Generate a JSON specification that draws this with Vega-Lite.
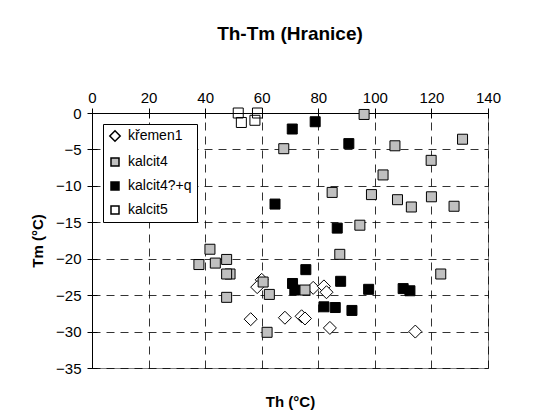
{
  "$schema": "https://vega.github.io/schema/vega-lite/v6.json",
  "width": 396,
  "height": 255,
  "autosize": {"type": "none"},
  "padding": {"left": 92, "top": 113, "right": 61, "bottom": 51},
  "background": "white",
  "title": {"text": "Th-Tm (Hranice)", "font": "Liberation Sans", "fontSize": 19, "fontWeight": "bold", "color": "#000", "anchor": "middle", "offset": 46},
  "config": {
    "font": "Liberation Sans",
    "view": {"stroke": "#808080", "strokeWidth": 1},
    "axis": {"labelFont": "Liberation Sans", "titleFont": "Liberation Sans", "labelColor": "#000", "titleColor": "#000", "domainColor": "#000", "tickColor": "#000"},
    "legend": {"strokeColor": "#000", "fillColor": "white", "padding": 5, "rowPadding": 10, "labelFontSize": 14, "labelFont": "Liberation Sans", "labelColor": "#000", "symbolSize": 64, "labelOffset": 6}
  },
  "data": {"values": [
    {"series": "křemen1", "Th": 60, "Tm": -22.9},
    {"series": "křemen1", "Th": 58.4, "Tm": -23.9},
    {"series": "křemen1", "Th": 56.1, "Tm": -28.3},
    {"series": "křemen1", "Th": 68.2, "Tm": -28.1},
    {"series": "křemen1", "Th": 74.1, "Tm": -27.9},
    {"series": "křemen1", "Th": 75.3, "Tm": -28.2},
    {"series": "křemen1", "Th": 78.2, "Tm": -24},
    {"series": "křemen1", "Th": 82, "Tm": -23.8},
    {"series": "křemen1", "Th": 82.9, "Tm": -24.6},
    {"series": "křemen1", "Th": 84.1, "Tm": -29.5},
    {"series": "křemen1", "Th": 114.3, "Tm": -30},
    {"series": "kalcit4?+q", "Th": 70.8, "Tm": -2.2},
    {"series": "kalcit4?+q", "Th": 78.9, "Tm": -1.2},
    {"series": "kalcit4?+q", "Th": 90.8, "Tm": -4.2},
    {"series": "kalcit4?+q", "Th": 64.7, "Tm": -12.5},
    {"series": "kalcit4?+q", "Th": 86.7, "Tm": -15.8},
    {"series": "kalcit4?+q", "Th": 75.6, "Tm": -21.5},
    {"series": "kalcit4?+q", "Th": 70.9, "Tm": -23.4},
    {"series": "kalcit4?+q", "Th": 71.7, "Tm": -24.3},
    {"series": "kalcit4?+q", "Th": 87.9, "Tm": -23.1},
    {"series": "kalcit4?+q", "Th": 97.8, "Tm": -24.2},
    {"series": "kalcit4?+q", "Th": 82, "Tm": -26.6},
    {"series": "kalcit4?+q", "Th": 86, "Tm": -26.7},
    {"series": "kalcit4?+q", "Th": 91.9, "Tm": -27.1},
    {"series": "kalcit4?+q", "Th": 110, "Tm": -24.1},
    {"series": "kalcit4?+q", "Th": 112.4, "Tm": -24.4},
    {"series": "kalcit4", "Th": 96.2, "Tm": -0.2},
    {"series": "kalcit4", "Th": 67.8, "Tm": -4.9},
    {"series": "kalcit4", "Th": 107.1, "Tm": -4.5},
    {"series": "kalcit4", "Th": 131, "Tm": -3.6},
    {"series": "kalcit4", "Th": 119.9, "Tm": -6.5},
    {"series": "kalcit4", "Th": 102.9, "Tm": -8.5},
    {"series": "kalcit4", "Th": 84.9, "Tm": -10.9},
    {"series": "kalcit4", "Th": 98.8, "Tm": -11.2},
    {"series": "kalcit4", "Th": 108, "Tm": -11.9},
    {"series": "kalcit4", "Th": 112.9, "Tm": -12.9},
    {"series": "kalcit4", "Th": 120, "Tm": -11.5},
    {"series": "kalcit4", "Th": 128, "Tm": -12.8},
    {"series": "kalcit4", "Th": 94.7, "Tm": -15.4},
    {"series": "kalcit4", "Th": 87.6, "Tm": -19.4},
    {"series": "kalcit4", "Th": 75.3, "Tm": -24.3},
    {"series": "kalcit4", "Th": 41.7, "Tm": -18.7},
    {"series": "kalcit4", "Th": 37.8, "Tm": -20.8},
    {"series": "kalcit4", "Th": 43.6, "Tm": -20.6},
    {"series": "kalcit4", "Th": 47.6, "Tm": -20.1},
    {"series": "kalcit4", "Th": 48.8, "Tm": -22.1},
    {"series": "kalcit4", "Th": 47.6, "Tm": -22.1},
    {"series": "kalcit4", "Th": 47.6, "Tm": -25.3},
    {"series": "kalcit4", "Th": 60.5, "Tm": -23.2},
    {"series": "kalcit4", "Th": 62.7, "Tm": -24.9},
    {"series": "kalcit4", "Th": 61.9, "Tm": -30.1},
    {"series": "kalcit4", "Th": 123.3, "Tm": -22.1},
    {"series": "kalcit5", "Th": 51.7, "Tm": 0},
    {"series": "kalcit5", "Th": 52.8, "Tm": -1.3},
    {"series": "kalcit5", "Th": 58.5, "Tm": 0},
    {"series": "kalcit5", "Th": 57.6, "Tm": -1.0}
  ]},
  "layer": [
    {
      "transform": [{"filter": "datum.series === 'křemen1' || datum.series === 'kalcit4?+q'"}],
      "mark": {"type": "point", "filled": true, "stroke": "#000", "strokeWidth": 1, "opacity": 1, "size": 100},
      "encoding": {
        "x": {"field": "Th", "type": "quantitative", "scale": {"domain": [0, 140], "nice": false, "zero": false},
          "axis": {"orient": "top", "values": [0, 20, 40, 60, 80, 100, 120, 140], "title": "Th (°C)", "titleFontSize": 15, "titleFontWeight": "bold", "titleY": 288, "titleBaseline": "middle", "labelFontSize": 15, "labelPadding": 3, "tickSize": 5, "grid": true, "gridDash": [8, 6], "gridColor": "#000", "gridOpacity": 0.8, "labelFlush": false}},
        "y": {"field": "Tm", "type": "quantitative", "scale": {"domain": [-35, 0], "nice": false, "zero": false},
          "axis": {"orient": "left", "values": [-35, -30, -25, -20, -15, -10, -5, 0], "title": "Tm (°C)", "titleFontSize": 15, "titleFontWeight": "bold", "titlePadding": 10, "labelFontSize": 15, "labelPadding": 6, "tickSize": 5, "grid": true, "gridDash": [8, 6], "gridColor": "#000", "gridOpacity": 0.8, "labelFlush": false}},
        "shape": {"field": "series", "type": "nominal", "scale": {"domain": ["křemen1", "kalcit4", "kalcit4?+q", "kalcit5"], "range": ["M0,-1.3L1.3,0L0,1.3L-1.3,0Z", "square", "square", "square"]},
          "legend": {"title": null, "orient": "none", "legendX": 11, "legendY": 11,
            "encode": {"symbols": {"update": {"stroke": {"value": "#000"}, "strokeWidth": {"value": 1}, "opacity": {"value": 1}}}}}},
        "fill": {"field": "series", "type": "nominal", "scale": {"domain": ["křemen1", "kalcit4", "kalcit4?+q", "kalcit5"], "range": ["white", "#c0c0c0", "black", "transparent"]}}
      }
    },
    {
      "transform": [{"filter": "datum.series === 'kalcit4' || datum.series === 'kalcit5'"}],
      "mark": {"type": "point", "filled": true, "stroke": "#000", "strokeWidth": 1, "opacity": 1, "size": 100},
      "encoding": {
        "x": {"field": "Th", "type": "quantitative",
          "axis": {"orient": "top", "values": [0, 20, 40, 60, 80, 100, 120, 140], "title": null, "labels": false, "domain": false, "grid": false, "tickSize": -5}},
        "y": {"field": "Tm", "type": "quantitative",
          "axis": {"orient": "left", "values": [-35, -30, -25, -20, -15, -10, -5, 0], "title": null, "labels": false, "domain": false, "grid": false, "tickSize": -5}},
        "shape": {"field": "series", "type": "nominal"},
        "fill": {"field": "series", "type": "nominal"}
      }
    }
  ],
  "resolve": {"axis": {"x": "independent", "y": "independent"}}
}
